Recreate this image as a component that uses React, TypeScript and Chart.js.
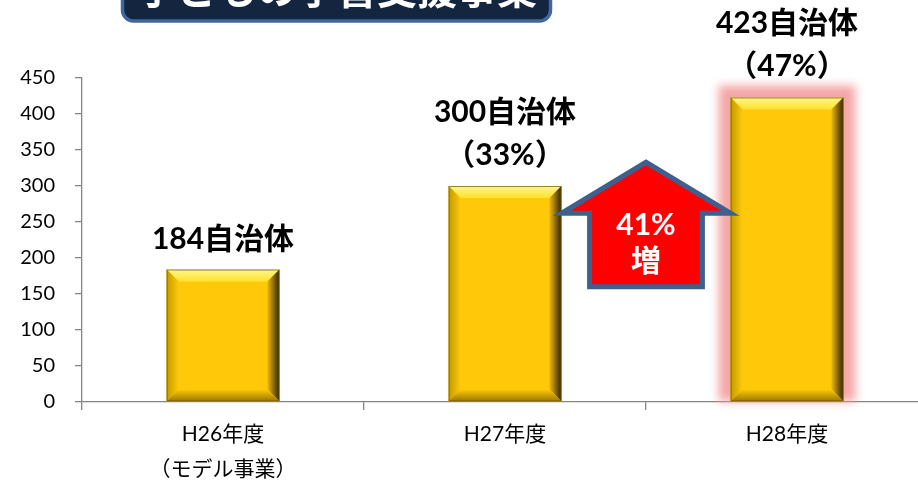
import React, { useEffect, useRef } from "react";
import { Chart, registerables } from "chart.js";

Chart.register(...registerables);

const titleText = "子どもの学習支援事業";
const categories: string[][] = [["H26年度", "（モデル事業）"], ["H27年度"], ["H28年度"]];
const values = [184, 300, 423];
const countLabels = ["184自治体", "300自治体", "423自治体"];
const pctLabels = ["", "（33%）", "（47%）"];
const yMax = 450;
const yStep = 50;
const arrowLines = ["41%", "増"];

const FONT = "Lato, 'Noto Sans CJK JP', sans-serif";

function bevel(ctx: CanvasRenderingContext2D, l: number, t: number, r: number, b: number) {
  const d = 12;
  const poly = (pts: number[][], fill: any) => {
    ctx.beginPath();
    ctx.moveTo(pts[0][0], pts[0][1]);
    for (let i = 1; i < pts.length; i++) ctx.lineTo(pts[i][0], pts[i][1]);
    ctx.closePath();
    ctx.fillStyle = fill;
    ctx.fill();
  };
  let g = ctx.createLinearGradient(0, t, 0, t + d);
  g.addColorStop(0, "#FFF68A");
  g.addColorStop(1, "#FFE12E");
  poly([[l, t], [r, t], [r - d, t + d], [l + d, t + d]], g);
  g = ctx.createLinearGradient(l, 0, l + d, 0);
  g.addColorStop(0, "#C29A00");
  g.addColorStop(1, "#FFC90A");
  poly([[l, t], [l + d, t + d], [l + d, b - d], [l, b]], g);
  g = ctx.createLinearGradient(r - d, 0, r, 0);
  g.addColorStop(0, "#F0B800");
  g.addColorStop(1, "#2E2200");
  poly([[r, t], [r, b], [r - d, b - d], [r - d, t + d]], g);
  g = ctx.createLinearGradient(0, b - d, 0, b);
  g.addColorStop(0, "#FFC90A");
  g.addColorStop(1, "#9A7600");
  poly([[l, b], [l + d, b - d], [r - d, b - d], [r, b]], g);
  ctx.strokeStyle = "rgba(110,85,0,0.7)";
  ctx.lineWidth = 1;
  ctx.strokeRect(l + 0.5, t + 0.5, r - l - 1, b - t - 1);
}

const decoPlugin = {
  id: "deco",
  beforeDatasetsDraw(chart: any) {
    const ctx = chart.ctx as CanvasRenderingContext2D;
    const meta = chart.getDatasetMeta(0);
    const el = meta.data[2];
    if (!el) return;
    const l = el.x - el.width / 2, r = el.x + el.width / 2;
    ctx.save();
    ctx.filter = "blur(5px)";
    ctx.fillStyle = "rgba(242,150,150,0.85)";
    ctx.fillRect(l - 12, el.y - 12, r - l + 24, el.base - el.y + 12);
    ctx.restore();
  },
  afterDatasetsDraw(chart: any) {
    const ctx = chart.ctx as CanvasRenderingContext2D;
    const meta = chart.getDatasetMeta(0);
    const xs = chart.scales.x;
    const ys = chart.scales.y;
    meta.data.forEach((el: any, i: number) => {
      const l = el.x - el.width / 2, r = el.x + el.width / 2;
      ctx.save();
      bevel(ctx, l, el.y, r, el.base);
      ctx.restore();
      ctx.save();
      ctx.fillStyle = "#000";
      ctx.textAlign = "center";
      ctx.textBaseline = "middle";
      ctx.font = `bold 30px ${FONT}`;
      if (pctLabels[i]) {
        ctx.fillText(pctLabels[i], el.x, el.y - 31);
        ctx.fillText(countLabels[i], el.x, el.y - 74);
      } else {
        ctx.fillText(countLabels[i], el.x, el.y - 30);
      }
      ctx.restore();
    });
    // arrow between categories 1 and 2
    const cw = xs.getPixelForValue(1) - xs.getPixelForValue(0);
    const cx = xs.getPixelForValue(1.5);
    const apex = ys.getPixelForValue(333);
    const wing = ys.getPixelForValue(262);
    const bottom = ys.getPixelForValue(160);
    const ww = cw * 0.3, sw = cw * 0.2;
    ctx.save();
    ctx.beginPath();
    ctx.moveTo(cx, apex);
    ctx.lineTo(cx + ww, wing);
    ctx.lineTo(cx + sw, wing);
    ctx.lineTo(cx + sw, bottom);
    ctx.lineTo(cx - sw, bottom);
    ctx.lineTo(cx - sw, wing);
    ctx.lineTo(cx - ww, wing);
    ctx.closePath();
    ctx.fillStyle = "#FF0000";
    ctx.fill();
    ctx.lineWidth = 5;
    ctx.lineJoin = "miter";
    ctx.strokeStyle = "#3F5F8E";
    ctx.stroke();
    ctx.fillStyle = "#fff";
    ctx.textAlign = "center";
    ctx.textBaseline = "middle";
    ctx.font = `bold 30px ${FONT}`;
    ctx.fillText(arrowLines[0], cx, ys.getPixelForValue(245));
    ctx.fillText(arrowLines[1], cx, ys.getPixelForValue(196));
    ctx.restore();
  },
  afterDraw(chart: any) {
    const ctx = chart.ctx as CanvasRenderingContext2D;
    ctx.save();
    ctx.beginPath();
    (ctx as any).roundRect(122.5, -40, 428, 61, 11);
    ctx.fillStyle = "#13253F";
    ctx.fill();
    ctx.lineWidth = 3.5;
    ctx.strokeStyle = "#41679B";
    ctx.stroke();
    ctx.fillStyle = "#fff";
    ctx.textAlign = "center";
    ctx.textBaseline = "alphabetic";
    ctx.font = `bold 40px ${FONT}`;
    ctx.fillText(titleText, 337, 4);
    ctx.restore();
  },
};

export default function App() {
  const ref = useRef<HTMLCanvasElement>(null);
  useEffect(() => {
    if (!ref.current) return;
    const chart = new Chart(ref.current, {
      type: "bar",
      data: {
        labels: categories as any,
        datasets: [
          {
            data: values,
            backgroundColor: "#FFC90A",
            borderWidth: 0,
            barPercentage: 0.4,
            categoryPercentage: 1,
          },
        ],
      },
      options: {
        animation: false,
        responsive: true,
        maintainAspectRatio: false,
        layout: { padding: { left: 0, right: 12, top: 78, bottom: 0 } },
        plugins: { legend: { display: false }, tooltip: { enabled: false } },
        scales: {
          x: {
            offset: true,
            grid: { display: true, drawOnChartArea: false, offset: true, tickLength: 8, color: "#868686", lineWidth: 1.3 },
            border: { color: "#868686", width: 1.3 },
            ticks: { color: "#000", font: { family: FONT, size: 21, lineHeight: 1.7 }, padding: 6, maxRotation: 0 },
            afterFit(scale: any) { scale.height = 78; },
          } as any,
          y: {
            min: 0,
            max: yMax,
            grid: { display: true, drawOnChartArea: false, tickLength: 7, color: "#868686", lineWidth: 1.3 },
            border: { color: "#868686", width: 1.3 },
            ticks: { stepSize: yStep, color: "#000", font: { family: FONT, size: 20 }, padding: 20 },
            afterFit(scale: any) { scale.width = 82; },
          } as any,
        },
      },
      plugins: [decoPlugin],
    });
    return () => chart.destroy();
  }, []);
  return (
    <div style={{ position: "fixed", left: 0, top: 0, width: 918, height: 480, overflow: "hidden", background: "#fff" }}>
      <div style={{ position: "relative", width: 940, height: 480 }}>
        <canvas ref={ref} />
      </div>
    </div>
  );
}
